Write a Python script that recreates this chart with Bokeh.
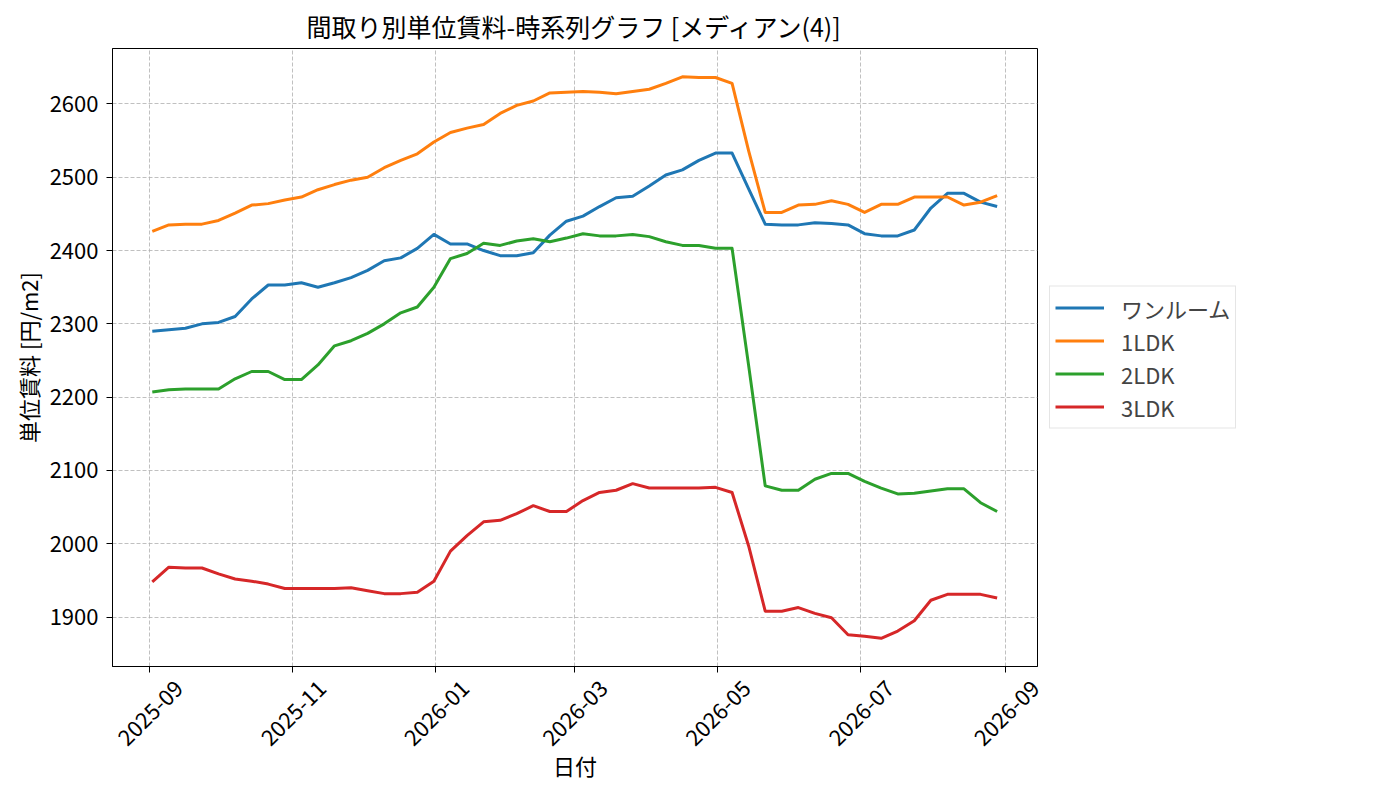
import pandas as pd
from math import pi
from bokeh.plotting import figure
from bokeh.models import (Legend, LegendItem, FixedTicker, DatetimeTickFormatter, DatetimeAxis, Range1d,
                          CustomLabelingPolicy)
from bokeh.embed import file_html
from bokeh.resources import INLINE

FONT = "Noto Sans CJK JP"

# weekly observation dates (52 points)
dates = pd.date_range("2025-09-02 04:00", "2026-08-28 07:00", periods=52)

one_room = [2290, 2292, 2294, 2300, 2302, 2310, 2334, 2353, 2353, 2356, 2350, 2356, 2363, 2373, 2386, 2390, 2403, 2422,
            2409, 2409, 2400, 2393, 2393, 2397, 2421, 2440, 2447, 2460, 2472, 2474, 2488, 2503, 2510, 2523, 2533, 2533,
            2484, 2436, 2435, 2435, 2438, 2437, 2435, 2423, 2420, 2420, 2428, 2458, 2478, 2478, 2466, 2460]
ldk1 = [2426, 2435, 2436, 2436, 2441, 2451, 2462, 2464, 2469, 2473, 2483, 2490, 2496, 2500, 2513, 2523, 2532, 2548,
        2561, 2567, 2572, 2587, 2598, 2604, 2615, 2616, 2617, 2616, 2614, 2617, 2620, 2628, 2637, 2636, 2636, 2628,
        2536, 2452, 2452, 2462, 2463, 2468, 2463, 2452, 2463, 2463, 2473, 2473, 2473, 2462, 2466, 2475]
ldk2 = [2207, 2210, 2211, 2211, 2211, 2225, 2235, 2235, 2224, 2224, 2244, 2270, 2277, 2287, 2300, 2315, 2323, 2350,
        2389, 2396, 2410, 2407, 2413, 2416, 2412, 2417, 2423, 2420, 2420, 2422, 2419, 2412, 2407, 2407, 2403, 2403,
        2243, 2079, 2073, 2073, 2088, 2096, 2096, 2085, 2076, 2068, 2069, 2072, 2075, 2075, 2056, 2044]
ldk3 = [1948, 1968, 1967, 1967, 1959, 1952, 1949, 1945, 1939, 1939, 1939, 1939, 1940, 1936, 1932, 1932, 1934, 1949,
        1990, 2011, 2030, 2032, 2041, 2052, 2044, 2044, 2059, 2070, 2073, 2082, 2076, 2076, 2076, 2076, 2077, 2070,
        1997, 1908, 1908, 1913, 1905, 1899, 1876, 1874, 1871, 1881, 1895, 1923, 1931, 1931, 1931, 1926]

series_names = ["ワンルーム", "1LDK", "2LDK", "3LDK"]
series_colors = ["#1f77b4", "#ff7f0e", "#2ca02c", "#d62728"]

tick_months = ["2025-09-01", "2025-11-01", "2026-01-01", "2026-03-01", "2026-05-01", "2026-07-01", "2026-09-01"]
y_ticks = [1900, 2000, 2100, 2200, 2300, 2400, 2500, 2600]

p = figure(frame_width=925, frame_height=618, x_axis_type="datetime",
           x_range=Range1d(pd.Timestamp("2025-08-16 05:00"), pd.Timestamp("2026-09-14 12:00")),
           y_range=Range1d(1832.6, 2675.6),
           min_border_left=112, min_border_top=40, min_border_bottom=126, min_border_right=20,
           output_backend="svg", toolbar_location=None,
           title="間取り別単位賃料-時系列グラフ [メディアン(4)]",
           y_axis_label="単位賃料 [円/m2]")

renderers = []
for vals, col in zip([one_room, ldk1, ldk2, ldk3], series_colors):
    r = p.line(dates, vals, line_width=3, color=col, line_join="round")
    renderers.append(r)

p.title.align = "center"
p.title.text_font = FONT
p.title.text_font_size = "25px"
p.title.text_font_style = "normal"
p.title.text_color = "black"
p.title.standoff = 10

# tick marks and grid at the month starts; their labels are drawn by the axis below
tick_ms = [pd.Timestamp(t).timestamp() * 1000 for t in tick_months]
p.xaxis.ticker = FixedTicker(ticks=tick_ms)
p.xaxis.major_label_policy = CustomLabelingPolicy(code="return new indices.constructor(indices.size)")
p.xaxis.major_label_text_font_size = "1px"
p.yaxis.ticker = FixedTicker(ticks=y_ticks)

# month labels, centred under each tick like rotated matplotlib labels
label_ms = [pd.Timestamp(t).timestamp() * 1000 + 12.6 * 86400000 for t in tick_months]
xlab = DatetimeAxis(ticker=FixedTicker(ticks=label_ms),
                    formatter=DatetimeTickFormatter(days="%Y-%m", months="%Y-%m", years="%Y-%m"),
                    axis_label="日付")
xlab.axis_line_color = None
xlab.major_tick_line_color = None
xlab.major_label_orientation = pi / 4
p.add_layout(xlab, "below")

for ax in (p.xaxis[0], p.yaxis[0], xlab):
    ax.major_label_text_font = FONT
    ax.major_label_text_color = "black"
    ax.axis_label_text_font = FONT
    ax.axis_label_text_font_size = "22px"
    ax.axis_label_text_font_style = "normal"
    ax.axis_label_text_color = "black"
    ax.major_tick_out = 6
    ax.major_tick_in = 0
    ax.minor_tick_out = 0
    ax.minor_tick_in = 0
    ax.major_label_standoff = 8
    ax.axis_label_standoff = 8
p.yaxis.major_label_text_font_size = "22px"
p.yaxis.axis_label_standoff = 3
p.xaxis[0].major_label_standoff = 0
xlab.major_label_text_font_size = "22px"
xlab.major_tick_out = 0
xlab.major_label_standoff = 8
xlab.axis_label_standoff = -7
for ax in (p.xaxis[0], p.yaxis[0]):
    ax.axis_line_color = "black"
    ax.major_tick_line_color = "black"

p.xgrid.grid_line_color = "#b0b0b0"
p.ygrid.grid_line_color = "#b0b0b0"
p.grid.grid_line_dash = "4 2"
p.grid.grid_line_width = 0.8
p.outline_line_color = "black"
p.outline_line_alpha = 1
p.outline_line_width = 1

legend = Legend(items=[LegendItem(label=n, renderers=[r]) for n, r in zip(series_names, renderers)],
                location="center_left")
legend.label_text_font = FONT
legend.label_text_font_size = "22px"
legend.glyph_width = 49
legend.glyph_height = 26
legend.spacing = 1
legend.padding = 5
legend.label_standoff = 17
legend.margin = 12
legend.border_line_color = "#cccccc"
legend.border_line_width = 1
p.add_layout(legend, "right")

open("out.html", "w").write(file_html(p, INLINE))
